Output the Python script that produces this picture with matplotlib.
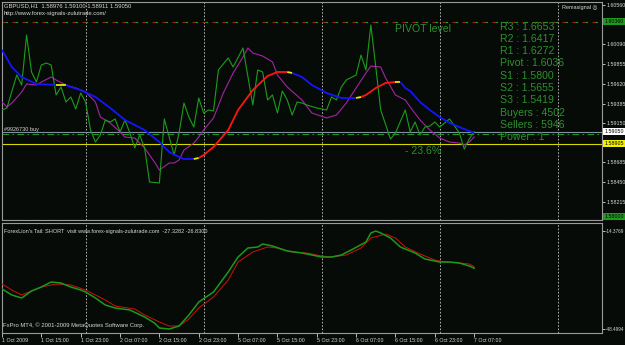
import matplotlib
matplotlib.use("Agg")
import matplotlib.pyplot as plt
import matplotlib.transforms as mtransforms

plt.rcParams["font.family"] = ["Liberation Sans", "DejaVu Sans"]

# --- data (H1 bars counted from 1 Oct 2009 07:00) ---
close_bar = [0, 1, 3, 4, 5, 6, 7, 8, 9, 10, 11, 12, 13, 14, 15, 16, 17, 18, 19, 20,
             21, 22, 23, 24, 25, 26, 27, 28, 29, 30, 32, 33, 34, 35, 36, 37, 38, 39, 40, 41,
             42, 43, 44, 46, 47, 49, 51, 52, 53, 54, 55, 56, 57, 58, 59, 60, 61, 62, 64, 65,
             66, 67, 68, 69, 70, 72, 73, 74, 75, 76, 77, 79, 80, 82, 83, 84, 85, 86, 87, 88,
             89, 91, 93, 94, 95, 96]
close = [1.59309, 1.59333, 1.59726, 1.59607, 1.60203, 1.59762, 1.59643, 1.59845, 1.59869, 1.59845,
         1.59488, 1.59583, 1.59404, 1.59464, 1.59321, 1.59511, 1.59404, 1.59070, 1.58927, 1.59011,
         1.59190, 1.59166, 1.59202, 1.59047, 1.59190, 1.59035, 1.58856, 1.59011, 1.58856, 1.58451,
         1.58439, 1.59202, 1.58987, 1.58772, 1.59035, 1.59392, 1.59225, 1.59106, 1.59452, 1.59273,
         1.59309, 1.59297, 1.59786, 1.59929, 1.59821, 1.60048, 1.59368, 1.59786, 1.59762, 1.59428,
         1.59488, 1.59273, 1.59535, 1.59428, 1.59249, 1.59404, 1.59392, 1.59368, 1.59333, 1.59321,
         1.59309, 1.59464, 1.59428, 1.59583, 1.59666, 1.59726, 1.59964, 1.59786, 1.60322, 1.59821,
         1.59309, 1.58963, 1.59035, 1.59309, 1.59047, 1.59166, 1.59011, 1.59106, 1.59118, 1.59166,
         1.59106, 1.59202, 1.59035, 1.58844, 1.58963, 1.59050]

fast_bar = [0, 1, 2, 4, 5, 7, 8, 10, 11, 13, 15, 17, 19, 20, 22, 24, 25, 27, 29, 31,
            32, 34, 35, 36, 37, 39, 40, 41, 43, 45, 47, 49, 50, 51, 53, 55, 56, 58, 61, 63,
            66, 68, 70, 72, 74, 75, 77, 78, 80, 82, 83, 85, 87, 89, 91, 93, 94, 95, 96]
fast_ma = [1.59404, 1.59345, 1.59392, 1.59523, 1.59619, 1.59607, 1.59643, 1.59702, 1.59666, 1.59607,
           1.59571, 1.59523, 1.59404, 1.59225, 1.59154, 1.59047, 1.58987, 1.58975, 1.58856, 1.58689,
           1.58594, 1.58677, 1.58677, 1.58713, 1.58832, 1.58915, 1.58987, 1.59070, 1.59214, 1.59511,
           1.59750, 1.59941, 1.60048, 1.59988, 1.59952, 1.59881, 1.59726, 1.59583, 1.59428, 1.59273,
           1.59214, 1.59249, 1.59392, 1.59571, 1.59750, 1.59833, 1.59821, 1.59690, 1.59488, 1.59428,
           1.59345, 1.59190, 1.59070, 1.58975, 1.58927, 1.58915, 1.58892, 1.58927, 1.58987]

slow_bar = [0, 2, 4, 7, 11, 13, 14, 16, 19, 22, 25, 29, 32, 34, 36, 37, 39, 40, 41, 43,
            46, 48, 51, 54, 56, 58, 59, 61, 63, 66, 69, 71, 72, 73, 74, 76, 78, 80, 81, 82,
            83, 85, 87, 89, 91, 93, 96]
slow_ma = [1.60024, 1.59821, 1.59702, 1.59619, 1.59607, 1.59607, 1.59583, 1.59547, 1.59464, 1.59333,
           1.59190, 1.59070, 1.58927, 1.58808, 1.58749, 1.58725, 1.58725, 1.58737, 1.58772, 1.58868,
           1.59070, 1.59309, 1.59547, 1.59714, 1.59762, 1.59762, 1.59750, 1.59702, 1.59607, 1.59511,
           1.59452, 1.59452, 1.59452, 1.59464, 1.59488, 1.59571, 1.59631, 1.59643, 1.59643, 1.59571,
           1.59535, 1.59404, 1.59309, 1.59225, 1.59154, 1.59106, 1.59035]
# trend state of the slow MA
seg_start = [0, 11, 13, 39, 40, 58, 59, 72, 73, 80, 81]
seg_end = [11, 13, 39, 40, 58, 59, 72, 73, 80, 81, 96]
seg_trend = ["down", "flat", "down", "flat", "up", "flat", "down", "flat", "up", "flat", "down"]

# ForexLion's Tail indicator
tail_bar = [0, 2, 4, 6, 8, 10, 12, 14, 16, 17, 19, 21, 23, 26, 29, 31, 32, 34, 36, 38,
            40, 43, 46, 48, 50, 52, 53, 55, 58, 61, 63, 65, 67, 69, 71, 74, 75, 76, 77, 79,
            81, 84, 86, 89, 91, 93, 95, 96]
tail_main = [-34.57, -36.66, -37.71, -35.27, -33.88, -32.13, -32.48, -33.88, -34.92, -35.62,
             -37.71, -40.14, -41.19, -41.88, -44.32, -46.41, -48.15, -48.50, -47.46, -43.63,
             -39.10, -35.62, -28.65, -23.43, -20.30, -19.95, -18.90, -19.60, -21.34, -22.04,
             -22.73, -23.43, -23.43, -22.73, -20.99, -18.21, -15.07, -14.38, -15.07, -16.81,
             -19.95, -22.04, -24.13, -25.17, -25.17, -25.52, -26.56, -27.33]
sig_bar = [0, 2, 4, 6, 8, 11, 14, 17, 21, 23, 27, 29, 32, 34, 36, 38, 40, 43, 46, 48,
           51, 54, 56, 59, 62, 65, 67, 70, 73, 75, 78, 80, 82, 85, 88, 90, 93, 95, 96]
tail_signal = [-32.83, -34.92, -36.66, -35.27, -33.88, -32.83, -33.18, -34.92, -38.40, -40.49,
               -41.54, -43.63, -46.06, -47.46, -47.46, -45.02, -41.19, -37.36, -31.44, -25.17,
               -21.69, -19.95, -20.30, -21.69, -22.04, -23.08, -23.43, -22.73, -20.30, -16.81,
               -15.42, -16.81, -19.95, -22.38, -24.48, -25.17, -25.52, -25.87, -26.83]

level_names = ["R3", "R2", "R1", "Pivot", "S1", "S2", "S3"]
level_values = [1.6653, 1.6417, 1.6272, 1.6036, 1.5800, 1.5655, 1.5419]
buyers, sellers, power = 4502, 5946, 1
bid = 1.59050
order_price = 1.59023
fib_price = 1.58905

price_ticks = [1.60560, 1.60090, 1.59855, 1.59620, 1.59385, 1.59150, 1.58685, 1.58450, 1.58215]
tail_ticks = [-14.3769, -48.4994]
time_bar = [0, 8, 16, 24, 32, 40, 48, 56, 64, 72, 80, 88, 96]
time_labels = ["1 Oct 2009", "1 Oct 15:00", "1 Oct 23:00", "2 Oct 07:00", "2 Oct 15:00",
               "2 Oct 23:00", "5 Oct 07:00", "5 Oct 15:00", "5 Oct 23:00", "6 Oct 07:00",
               "6 Oct 15:00", "6 Oct 23:00", "7 Oct 07:00"]
day_bar = [17, 41, 65, 89, 113]

BG = "#070b07"
FRAME = "#9a9a9a"
TXT = "#d8d8d8"
GREEN_TXT = "#2e8f2e"
trend_colors = {"down": "#1414ff", "up": "#ff1414", "flat": "#e8e800"}

W, H = 625, 345
fig = plt.figure(figsize=(6.25, 3.45), dpi=100)
fig.patch.set_facecolor(BG)


def px_axes(x0, y0, x1, y1):
    return fig.add_axes([x0 / W, 1 - y1 / H, (x1 - x0) / W, (y1 - y0) / H])


def ptext(x, y, s, **kw):
    fig.text(x / W, 1 - y / H, s, va="center", ha="left", **kw)


ax = px_axes(2, 2, 602, 220)
ax2 = px_axes(2, 223, 602, 333)
for a in (ax, ax2):
    a.set_facecolor(BG)
    for sp in a.spines.values():
        sp.set_color(FRAME)
        sp.set_linewidth(0.8)
    a.set_xlim(0, 122)
    for b in day_bar:
        a.axvline(b, color="#c8c8c8", lw=0.6, ls=(0, (2, 2)), zorder=1)
    a.yaxis.tick_right()
    a.tick_params(axis="y", colors=TXT, labelsize=3.8, length=2, width=0.6, pad=1)

# --- main chart ---
ax.set_ylim(1.57998, 1.60596)
ax.set_xticks([])
ax.set_yticks(price_ticks)
ax.set_yticklabels([f"{v:.5f}" for v in price_ticks])

pivot = level_values[level_names.index("Pivot")]
s1 = level_values[level_names.index("S1")]
ax.axhline(pivot, color="#a02020", lw=0.8, ls=(0, (5, 4)), zorder=2)
ax.axhline(pivot, color="#1f9a1f", lw=0.8, ls=(6, (2, 7)), zorder=2)
ax.axhline(s1, color="#1f9a1f", lw=0.8, ls=(0, (6, 3, 1.5, 3)), zorder=2)
ax.axhline(bid, color="#8090a0", lw=0.8, zorder=2)
ax.axhline(order_price, color="#1f9a1f", lw=0.8, ls=(0, (6, 3, 1.5, 3)), zorder=2)
ax.axhline(fib_price, color="#d8d800", lw=0.8, zorder=2)

ax.plot(fast_bar, fast_ma, color="#a522a5", lw=0.8, zorder=3)
ax.plot(close_bar, close, color="#1c9c1c", lw=0.8, zorder=4)
for s, e, t in zip(seg_start, seg_end, seg_trend):
    xs = [b for b in slow_bar if s <= b <= e]
    ys = [v for b, v in zip(slow_bar, slow_ma) if s <= b <= e]
    ax.plot(xs, ys, color=trend_colors[t], lw=1.3, solid_capstyle="butt", zorder=5)

# coloured price labels on the scale
blend = mtransforms.blended_transform_factory(ax.transAxes, ax.transData)
for val, txt, fc in [(pivot, "1.60360", "#1f9a1f"), (bid, "1.59050", "#ffffff"),
                     (fib_price, "1.58905", "#f0f000"), (s1 + 0.00045, "1.58000", "#1f9a1f")]:
    ax.text(1.004, val, txt, transform=blend, fontsize=3.8, color="#000000",
            va="center", ha="left", clip_on=False,
            bbox=dict(facecolor=fc, edgecolor="none", pad=0.7))

# --- indicator window ---
ax2.set_ylim(-49.89, -11.59)
ax2.plot(sig_bar, tail_signal, color="#d01010", lw=0.7, zorder=3)
ax2.plot(tail_bar, tail_main, color="#1a9a1a", lw=1.1, zorder=4)
ax2.set_yticks(tail_ticks)
ax2.set_yticklabels([f"{v:.4f}" for v in tail_ticks])
ax2.tick_params(axis="y", labelsize=3.3, pad=0.5)
ax2.set_xticks(time_bar)
ax2.set_xticklabels(time_labels)
ax2.tick_params(axis="x", colors=TXT, labelsize=3.8, length=3, width=0.6, pad=0.5)
for lbl in ax2.get_xticklabels():
    lbl.set_ha("left")

# --- texts ---
ptext(4, 6, "GBPUSD,H1  1.58976 1.59100 1.58911 1.59050", color=TXT, fontsize=4.2)
ptext(4, 13, "http://www.forex-signals-zulutrade.com/", color=TXT, fontsize=4.2)
ptext(562, 7, "Remasignal \u25ce", color=TXT, fontsize=4.0)
ptext(4, 130, "#9926730 buy", color=TXT, fontsize=4.0)
ptext(395, 29, "PIVOT level", color=GREEN_TXT, fontsize=7.6)
ptext(405, 151, "- 23.6%", color=GREEN_TXT, fontsize=7.6)
right_lines = [f"{n} : {v:.4f}" for n, v in zip(level_names, level_values)]
right_lines += [f"Buyers : {buyers}", f"Sellers : {sellers}", f"Power : {power}"]
for k, s in enumerate(right_lines):
    ptext(500, 26.5 + k * 12.3, s, color=GREEN_TXT, fontsize=7.6)
ptext(4, 231, "ForexLion's Tail: SHORT  visit www.forex-signals-zulutrade.com  -27.3282 -26.8300",
      color=TXT, fontsize=4.0)
ptext(3, 325, "FxPro MT4, \u00a9 2001-2009 MetaQuotes Software Corp.", color=TXT, fontsize=4.2)

fig.savefig("out.png", dpi=100, facecolor=BG)
